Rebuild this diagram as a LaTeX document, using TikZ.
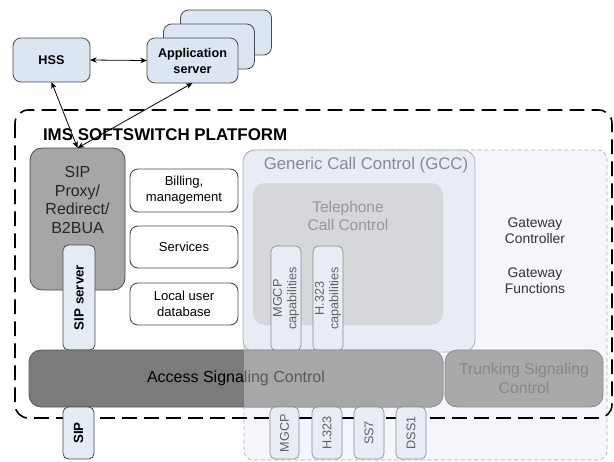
\documentclass[tikz,border=0pt]{standalone}
\usepackage{fontspec}
\setmainfont{Liberation Sans}
\usetikzlibrary{arrows.meta}
\definecolor{topfill}{HTML}{DCE5F2}
\definecolor{boxline}{HTML}{4A4A4A}
\definecolor{gwfill}{HTML}{F4F6FB}
\definecolor{gwline}{HTML}{AFAFAF}
\definecolor{gccfill}{HTML}{E8EDF5}
\definecolor{telfill}{HTML}{D5D7DA}
\definecolor{fadetxt}{HTML}{8A8A8A}
\definecolor{sipfill}{HTML}{A6A6A6}
\definecolor{accfill}{HTML}{7B7B7B}
\definecolor{trkfill}{HTML}{A9A9A9}
\definecolor{smallfill}{HTML}{E4EBF5}
\begin{document}
\begin{tikzpicture}[x=0.75pt,y=-0.75pt,
  every node/.style={inner sep=0pt, outer sep=0pt},
  sz/.style 2 args={minimum width=#1*0.75pt, minimum height=#2*0.75pt},
  topbox/.style={draw=boxline, fill=topfill, rounded corners=6pt, line width=0.6pt,
     font=\bfseries\fontsize{9.5}{12}\selectfont, align=center},
  conn/.style={{Stealth[length=5pt,width=4pt]}-{Stealth[length=5pt,width=4pt]}, line width=0.6pt},
  whitebox/.style={draw=boxline, fill=white, rounded corners=6pt, line width=0.7pt,
     font=\fontsize{9.8}{12}\selectfont, align=center},
  vbox/.style={draw=boxline, fill=smallfill, rounded corners=4pt, line width=0.6pt, rotate=90,
     font=\bfseries\fontsize{10}{12}\selectfont, align=center},
  fvbox/.style={draw=gwline!80!black, fill=gccfill, rounded corners=4pt, line width=0.5pt, rotate=90,
     text=black!62, font=\fontsize{9.5}{11}\selectfont, align=center},
  bigbox/.style={rounded corners=9pt, line width=0.6pt}
]
\useasboundingbox (0,0) rectangle (614,461);

% gateway region
\path[fill=gwfill, draw=gwline, dash pattern=on 3pt off 2pt, line width=0.5pt, rounded corners=7pt]
  (244,150) rectangle (607,460);

% outer platform border
\draw[line width=1.2pt, dash pattern=on 11pt off 5.5pt, rounded corners=10pt]
  (15,110) rectangle (612,418);

% top boxes
\node[topbox, sz={91}{45}] (app3) at (226,32.5) {};
\node[topbox, sz={91}{45}] (app2) at (209,46.5) {};
\node[topbox, sz={91}{45}] (app) at (192.5,60.5) {Application\\server};
\node[topbox, sz={77}{44}] (hss) at (51.5,60) {HSS};

% left column
\node[draw=boxline, fill=sipfill, bigbox, sz={95}{142}] (sip) at (77.5,219) {};
\node[font=\fontsize{12}{14}\selectfont, align=center, text=black!85] (siptxt) at (77.5,200)
  {SIP\\Proxy/\\Redirect/\\B2BUA};
\node[vbox, sz={105}{32}] (sipsrv) at (79,297.5) {SIP server};

\node[whitebox, sz={108}{43}] (bill) at (184,190.5) {Billing,\\management};
\node[whitebox, sz={108}{42}] (serv) at (184,247) {Services};
\node[whitebox, sz={108}{42}] (ludb) at (184,304) {Local user\\database};

% arrows
\draw[conn] (sip.north) -- (hss.south);
\draw[conn] (sip.north) -- (app.south);
\draw[conn] (hss.east) -- (app.west);

% GCC
\node[draw=gwline, fill=gccfill, bigbox, sz={232}{202}] (gcc) at (359,251) {};
\node[text=fadetxt, font=\fontsize{12.6}{14}\selectfont] (gcctxt) at (366,165) {Generic Call Control (GCC)};
\node[fill=telfill, bigbox, sz={190}{142}] (tel) at (348,254) {};
\node[text=fadetxt!90!white, font=\fontsize{11.6}{13.5}\selectfont, align=center] (teltxt) at (348,216)
  {Telephone\\Call Control};
\node[fvbox, sz={105}{30}] (mgcpcap) at (286,298.5) {MGCP\\capabilities};
\node[fvbox, sz={105}{30}] (h323cap) at (328,298.5) {H.323\\capabilities};

% access signaling
\node[draw=black!65, fill=accfill, bigbox, sz={414}{57}, font=\fontsize{12}{14}\selectfont] (acc) at (236,378.5)
  {Access Signaling Control};
\begin{scope}
  \clip[rounded corners=7pt] (244,150) rectangle (607,460);
  \fill[gwfill, opacity=0.36] (acc.south west) rectangle (acc.north east);
\end{scope}
\node[draw=black!45, fill=trkfill, bigbox, sz={158}{57}, text=black!47,
  font=\fontsize{11.8}{14}\selectfont, align=center] (trk) at (524,378.5)
  {Trunking Signaling\\Control};

% gateway texts
\node[text=black!80, font=\fontsize{10.4}{12}\selectfont, align=center] (gwc) at (535,231) {Gateway\\Controller};
\node[text=black!80, font=\fontsize{10.4}{12}\selectfont, align=center] (gwf) at (535,281) {Gateway\\Functions};

% bottom protocol boxes
\node[vbox, sz={52}{31}] (sipb) at (78.5,433) {SIP};
\node[fvbox, sz={52}{29}] (mgcpb) at (284.5,433) {MGCP};
\node[fvbox, sz={52}{30}] (h323b) at (327,433) {H.323};
\node[fvbox, sz={52}{30}] (ss7b) at (369,433) {SS7};
\node[fvbox, sz={52}{30}] (dss1b) at (411,433) {DSS1};

% title
\node[anchor=west, font=\bfseries\fontsize{12.7}{14}\selectfont] (title) at (43,135) {IMS SOFTSWITCH PLATFORM};
\end{tikzpicture}
\end{document}
